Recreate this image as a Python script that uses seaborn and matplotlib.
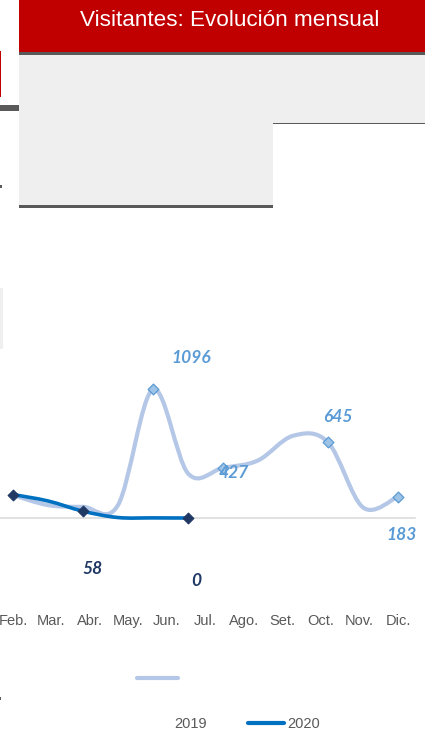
# Load libraries
import numpy as np
import pandas as pd
from matplotlib import pyplot as plt
from matplotlib.path import Path
from matplotlib.patches import PathPatch, Rectangle
from matplotlib.lines import Line2D
import seaborn as sns

sns.set_style('white')
plt.rcParams['font.family'] = ['Liberation Sans', 'DejaVu Sans']

# Data
title = 'Visitantes: Evolución mensual'
month_labels = ['Feb.', 'Mar.', 'Abr.', 'May.', 'Jun.', 'Jul.', 'Ago.', 'Set.', 'Oct.', 'Nov.', 'Dic.']
visits_2019 = [195, 110, 95, 110, 1096, 380, 427, 490, 700, 645, 90, 183]
visits_2020 = [200, 145, 58, 4, 1, 0]
marked_2019 = [4, 6, 9, 11]
marked_2020 = [0, 2, 5]

# label offsets in pixels (dx, dy) for the marked points
offsets_2019 = [(38, 31), (11, -5), (10, 25), (4, -38)]
offsets_2020 = [(0, 0), (10, -58), (8, -63)]

c2019_line = '#B4C7E7'
c2019_mark = '#9DC3E6'
c2019_text = '#5B9BD5'
c2020_line = '#0070C0'
c2020_mark = '#203864'
grey_txt = '#595959'


def smooth_path(xs, ys):
    # Excel-like smoothed line: cubic bezier through the points
    n = len(xs)
    verts = [(xs[0], ys[0])]
    codes = [Path.MOVETO]
    for i in range(n - 1):
        xa, ya = (xs[i - 1], ys[i - 1]) if i > 0 else (xs[i], ys[i])
        xb, yb = (xs[i + 2], ys[i + 2]) if i + 2 < n else (xs[i + 1], ys[i + 1])
        c1 = (xs[i] + (xs[i + 1] - xa) / 6, ys[i] + (ys[i + 1] - ya) / 6)
        c2 = (xs[i + 1] - (xb - xs[i]) / 6, ys[i + 1] - (yb - ys[i]) / 6)
        verts += [c1, c2, (xs[i + 1], ys[i + 1])]
        codes += [Path.CURVE4] * 3
    return Path(verts, codes)


W, H = 425, 742
fig = plt.figure(figsize=(W / 100, H / 100), dpi=100)

# Background decorations (pixel coordinates)
bg = fig.add_axes([0, 0, 1, 1])
bg.set_xlim(0, W)
bg.set_ylim(H, 0)
bg.axis('off')
for (x, y, w, h, col) in [
    (19, 0, 406, 52, '#C00000'),
    (19, 52, 406, 3, grey_txt),
    (19, 55, 406, 68, '#EFEFEF'),
    (19, 123, 254, 82, '#EFEFEF'),
    (19, 205, 254, 3, grey_txt),
    (273, 122.5, 152, 1.2, grey_txt),
    (0, 51, 1.2, 46, '#C00000'),
    (0, 105, 19, 5.5, grey_txt),
    (0, 185, 2, 2.5, grey_txt),
    (0, 288, 3, 61, '#EFEFEF'),
    (0, 697, 1, 3, grey_txt),
]:
    bg.add_patch(Rectangle((x, y), w, h, facecolor=col, edgecolor='none'))
bg.text(229.5, 25.7, title, color='white', fontsize=16.2, ha='center', va='baseline')

# Legend (laid out as in the original)
bg.add_line(Line2D([137, 178], [677.7, 677.7], color=c2019_line, lw=3))
bg.text(174, 724, '2019', color=grey_txt, fontsize=10.5, ha='left', va='center')
bg.add_line(Line2D([248, 284], [723, 723], color=c2020_line, lw=3))
bg.text(287, 724, '2020', color=grey_txt, fontsize=10.5, ha='left', va='center')

# Chart axes
ax = fig.add_axes([0, (H - 518) / H, 415 / W, 178 / H])
ax.patch.set_alpha(0)
ax.set_xlim(-13 / 35, 402 / 35)
ax.set_ylim(0, 178 / 0.11743)
for s in ['top', 'left', 'right']:
    ax.spines[s].set_visible(False)
ax.spines['bottom'].set_color('#D9D9D9')
ax.spines['bottom'].set_linewidth(1.1)
ax.set_yticks([])
ax.set_xticks(np.linspace(0, 11, len(month_labels)))
ax.set_xticklabels(month_labels, color=grey_txt, fontsize=10.5)
ax.tick_params(axis='x', length=0, pad=69)

df19 = pd.DataFrame({'mes': np.arange(len(visits_2019)), 'visitantes': visits_2019})
df20 = pd.DataFrame({'mes': np.arange(len(visits_2020)), 'visitantes': visits_2020})

ax.add_patch(PathPatch(smooth_path(df19['mes'], df19['visitantes']), fill=False,
                       edgecolor=c2019_line, lw=3, capstyle='round', zorder=2, clip_on=False))
sns.scatterplot(data=df19.iloc[marked_2019], x='mes', y='visitantes', marker='D', s=30,
                color=c2019_mark, edgecolor=c2019_text, linewidth=0.9, zorder=3, ax=ax, clip_on=False)
ax.add_patch(PathPatch(smooth_path(df20['mes'], df20['visitantes']), fill=False,
                       edgecolor=c2020_line, lw=2.6, capstyle='round', zorder=4, clip_on=False))
sns.scatterplot(data=df20.iloc[marked_2020], x='mes', y='visitantes', marker='D', s=30,
                color=c2020_mark, edgecolor=c2020_mark, linewidth=0.8, zorder=5, ax=ax, clip_on=False)
ax.set_xlabel('')
ax.set_ylabel('')

# Data labels
lab_font = dict(family=['Lato', 'DejaVu Sans'], fontsize=12.5, fontweight='bold', fontstyle='italic')
for i, off in zip(marked_2019, offsets_2019):
    ax.annotate(str(visits_2019[i]), (i, visits_2019[i]), xytext=off, textcoords='offset pixels',
                ha='center', va='center', color=c2019_text, zorder=6, **lab_font)
for i, off in zip(marked_2020, offsets_2020):
    if i == 0:
        continue
    ax.annotate(str(visits_2020[i]), (i, visits_2020[i]), xytext=off, textcoords='offset pixels',
                ha='center', va='center', color='#1F3864', zorder=6, **lab_font)

fig.savefig('out.png', dpi=100)
